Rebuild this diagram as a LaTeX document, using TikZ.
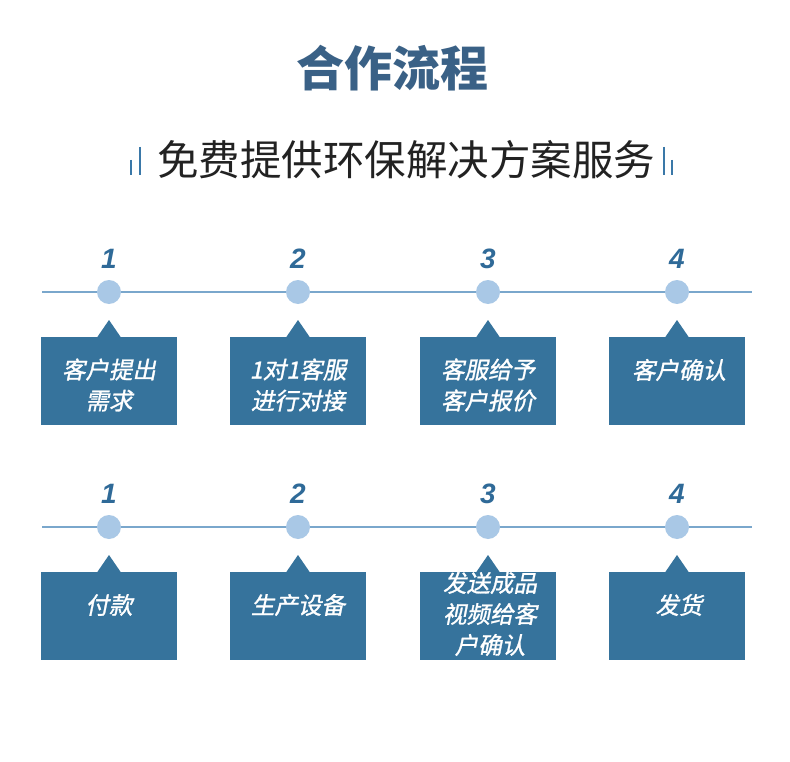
\documentclass[tikz,border=0pt]{standalone}
\usepackage{fontspec}
\setmainfont{Noto Sans CJK SC}
\newfontfamily\boxfont{Noto Sans CJK SC}[FakeSlant=0.2,FakeBold=1.2]
\newfontfamily\numfont{Liberation Sans}
\definecolor{titleblue}{HTML}{3A6186}
\definecolor{boxblue}{HTML}{36739C}
\definecolor{linecol}{HTML}{7AA7CC}
\definecolor{dotcol}{HTML}{A9C8E6}
\definecolor{numcol}{HTML}{2F6A98}
\definecolor{barcol}{HTML}{3A78A8}
\definecolor{subcol}{HTML}{222222}
\begin{document}
\begin{tikzpicture}[x=1pt,y=-1pt,
  stepbox/.style={fill=boxblue,draw=none,minimum width=136pt,minimum height=88pt,inner sep=0pt},
  dot/.style={circle,fill=dotcol,minimum size=24pt,inner sep=0pt},
  num/.style={font=\numfont\fontsize{28}{30}\selectfont\bfseries\itshape,text=numcol},
  btxt/.style={font=\boxfont\fontsize{23.5}{31}\selectfont,text=white,align=center},
  tl/.style={draw=linecol,line width=1.2pt},
  bar/.style={draw=barcol,line width=2.4pt}]
\useasboundingbox (0,0) rectangle (790,762);
\fill[white] (0,0) rectangle (790,762);
\node[font=\fontsize{48}{52}\selectfont\bfseries,text=titleblue] (title) at (392,68) {合作流程};
\node[font=\fontsize{41.5}{44}\selectfont,text=subcol] (sub) at (406,160) {免费提供环保解决方案服务};
\draw[bar] (131,160) -- (131,175);
\draw[bar] (140,147) -- (140,175);
\draw[bar] (664,147) -- (664,175);
\draw[bar] (672,160) -- (672,175);
% rows
\foreach \r/\ly/\by in {1/292/337, 2/527/572} {
  \coordinate (L\r) at (42,\ly);
  \coordinate (R\r) at (752,\ly);
  \draw[tl] (L\r) -- (R\r);
  \foreach \i/\x in {1/109,2/298,3/488,4/677} {
    \node[dot] (d\r\i) at (\x,\ly) {};
    \node[num] (n\r\i) at (\x,\ly-33) {\i};
    \node[stepbox,anchor=north] (b\r\i) at (\x,\by) {};
    \fill[boxblue] (\x-12,\by+0.5) -- (\x,\by-17) -- (\x+12,\by+0.5) -- cycle;
  }
}
% row 1 texts
\node[btxt] (t11) at (109,385) {客户提出\\需求};
\node[btxt] (t12) at (298,385) {1对1客服\\进行对接};
\node[btxt] (t13) at (488,385) {客服给予\\客户报价};
\node[btxt] (t14) at (679,370) {客户确认};
% row 2 texts
\node[btxt] (t21) at (109,605) {付款};
\node[btxt] (t22) at (298,605) {生产设备};
\node[btxt] (t23) at (490,614) {发送成品\\视频给客\\户确认};
\node[btxt] (t24) at (679,605) {发货};
\end{tikzpicture}
\end{document}
